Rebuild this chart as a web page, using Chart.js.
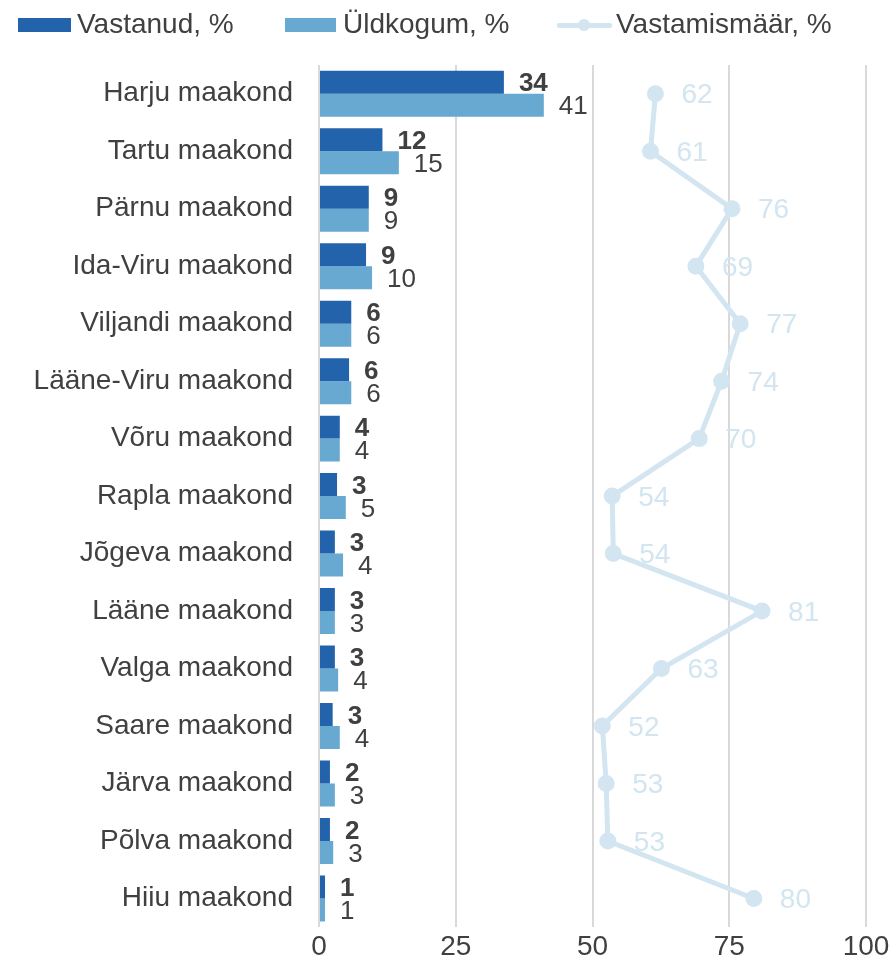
<!DOCTYPE html>
<html>
<head>
<meta charset="utf-8">
<script src="https://cdn.jsdelivr.net/npm/chart.js@4.4.1/dist/chart.umd.min.js"></script>
<style>
  html, body { margin: 0; padding: 0; background: #fff; }
  #wrap { position: relative; width: 896px; height: 970px; }
  .sw { position: absolute; }
  .txt { position: absolute; top: 8px; height: 28px; line-height: 28px;
         font: 28px 'Liberation Sans', Arial, sans-serif; color: #404040; white-space: nowrap; }
  .lineSw { position: absolute; left: 557px; top: 18px; width: 55px; height: 14px; }
  .lineSw::before { content: ''; position: absolute; left: 0; right: 0; top: 5px; height: 5px; background: #d2e5f1; border-radius: 2px; }
  .lineSw::after { content: ''; position: absolute; left: 21px; top: 1px; width: 12px; height: 12px; border-radius: 50%; background: #d2e5f1; }
</style>
</head>
<body>
<div id="wrap">
  <div class="sw" style="left:18px;top:18px;width:53px;height:14px;background:#2263ab"></div>
  <div class="txt" style="left:77px">Vastanud, %</div>
  <div class="sw" style="left:285px;top:18px;width:51px;height:14px;background:#68a9d1"></div>
  <div class="txt" style="left:343px">Üldkogum, %</div>
  <div class="lineSw"></div>
  <div class="txt" style="left:616px">Vastamismäär, %</div>
  <canvas id="chart" width="896" height="970"></canvas>
</div>
<script>
const regions = ['Harju maakond', 'Tartu maakond', 'Pärnu maakond', 'Ida-Viru maakond', 'Viljandi maakond',
  'Lääne-Viru maakond', 'Võru maakond', 'Rapla maakond', 'Jõgeva maakond', 'Lääne maakond',
  'Valga maakond', 'Saare maakond', 'Järva maakond', 'Põlva maakond', 'Hiiu maakond'];

// vastanute osakaal, %
const vastanud = [33.8, 11.6, 9.1, 8.6, 5.9, 5.5, 3.8, 3.3, 2.9, 2.9, 2.9, 2.5, 2.0, 2.0, 1.1];
// üldkogumi osakaal, %
const yldkogum = [41.1, 14.6, 9.1, 9.7, 5.9, 5.9, 3.8, 4.9, 4.4, 2.9, 3.5, 3.8, 2.9, 2.6, 1.1];
// vastamismäär, %
const vastamismaar = [61.5, 60.6, 75.5, 68.9, 77.0, 73.6, 69.5, 53.6, 53.8, 81.0, 62.6, 51.8, 52.5, 52.8, 79.5];

const xMin = 0, xMax = 100, xStep = 25;

const FONT = "'Liberation Sans', Arial, sans-serif";
const TEXT = '#404040';

// väärtuste sildid tulpade ja punktide kõrval
const valueLabels = {
  id: 'valueLabels',
  afterDatasetsDraw(chart) {
    const ctx = chart.ctx;
    ctx.save();
    ctx.textAlign = 'left';
    ctx.textBaseline = 'middle';
    chart.data.datasets.forEach((ds, i) => {
      const meta = chart.getDatasetMeta(i);
      meta.data.forEach((el, j) => {
        const txt = String(Math.round(ds.data[j]));
        if (ds.type === 'line') {
          ctx.font = '28px ' + FONT;
          ctx.fillStyle = '#d2e5f1';
          ctx.fillText(txt, el.x + 26, el.y + 2);
        } else {
          ctx.font = (i === 0 ? 'bold ' : '') + '26px ' + FONT;
          ctx.fillStyle = TEXT;
          ctx.fillText(txt, el.x + 15, el.y + 2);
        }
      });
    });
    ctx.restore();
  }
};

new Chart(document.getElementById('chart'), {
  type: 'bar',
  plugins: [valueLabels],
  data: {
    labels: regions,
    datasets: [
      {
        label: 'Vastanud, %',
        data: vastanud,
        backgroundColor: '#2263ab',
        categoryPercentage: 0.8,
        barPercentage: 1.0,
        order: 2
      },
      {
        label: 'Üldkogum, %',
        data: yldkogum,
        backgroundColor: '#68a9d1',
        categoryPercentage: 0.8,
        barPercentage: 1.0,
        order: 2
      },
      {
        type: 'line',
        label: 'Vastamismäär, %',
        data: vastamismaar,
        borderColor: '#d2e5f1',
        backgroundColor: '#d2e5f1',
        borderWidth: 5,
        pointRadius: 6,
        pointHoverRadius: 6,
        tension: 0,
        fill: false,
        order: 1
      }
    ]
  },
  options: {
    indexAxis: 'y',
    responsive: false,
    animation: false,
    layout: { padding: { top: 65, right: 30, left: 0, bottom: 0 } },
    plugins: {
      legend: { display: false },
      tooltip: { enabled: false }
    },
    scales: {
      x: {
        min: xMin,
        max: xMax,
        ticks: { stepSize: xStep, color: TEXT, font: { size: 28, family: FONT }, padding: 3 },
        grid: { color: '#d9d9d9', lineWidth: 2, drawTicks: false },
        border: { display: false },
        afterFit: (scale) => { scale.height = 42; }
      },
      y: {
        ticks: { color: TEXT, font: { size: 28, family: FONT }, padding: 26 },
        grid: { display: false, drawTicks: false },
        border: { display: false },
        afterFit: (scale) => { scale.width = 319; }
      }
    }
  }
});
</script>
</body>
</html>
